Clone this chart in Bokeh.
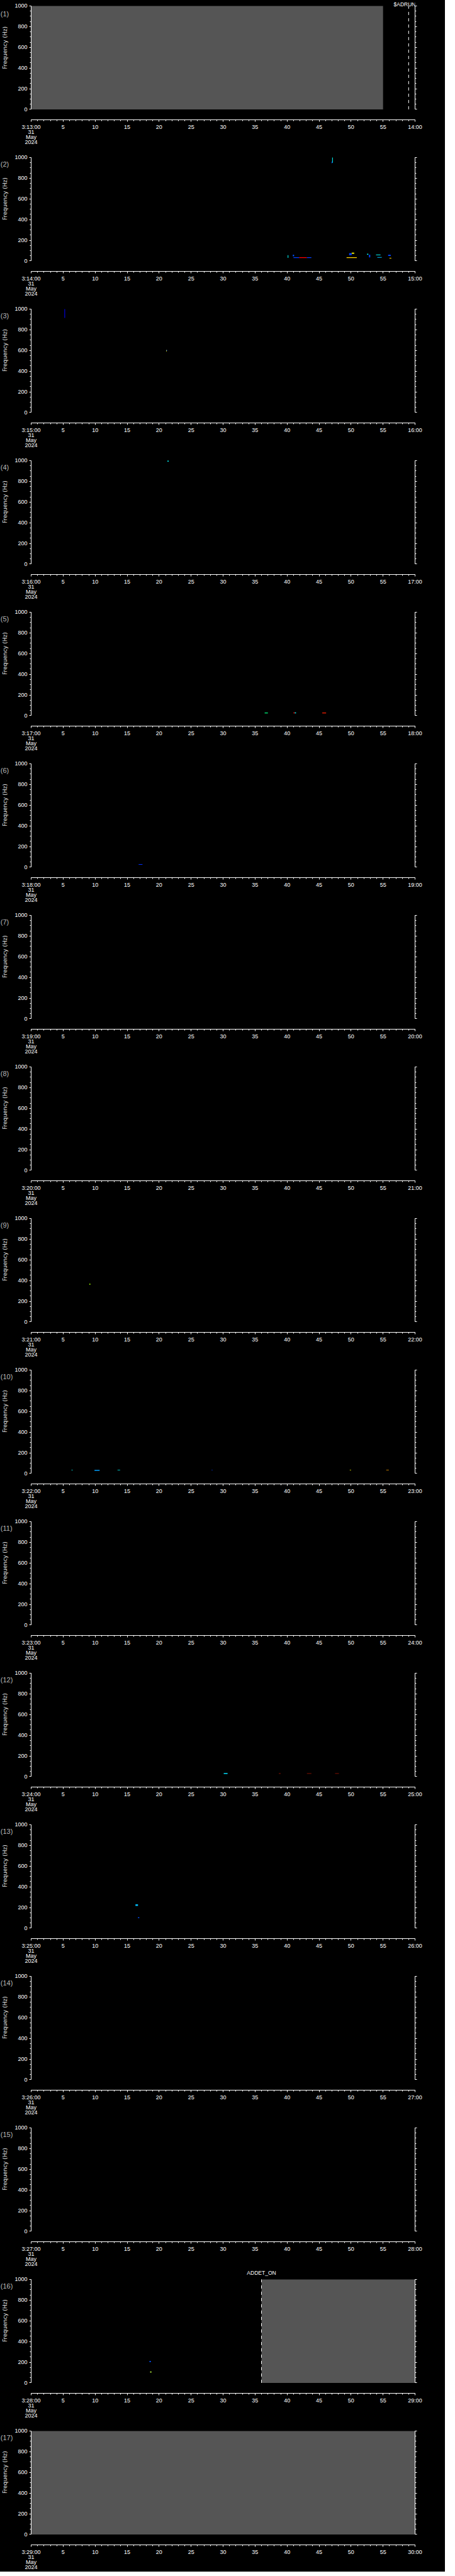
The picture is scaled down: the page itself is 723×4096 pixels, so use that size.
import math
from bokeh.plotting import figure
from bokeh.models import Range1d, LinearAxis, FixedTicker, ColumnDataSource
from bokeh.layouts import column, row
from bokeh.embed import file_html
from bokeh.resources import INLINE
from bokeh.core.properties import value

# ---------------- data ----------------
panel_minute = list(range(13, 30))          # panel k covers 03:mm:00 .. 03:mm+1:00
date_lines = ["31", "May", "2024"]
x_major = list(range(0, 61, 5))             # seconds
x_minor = list(range(0, 61, 1))
y_major = [0, 200, 400, 600, 800, 1000]     # Hz
y_minor = list(range(0, 1001, 50))
y_label = "Frequency  (Hz)"

gray_panel = [1, 16, 17]
gray_t0 = [0.0, 36.0, 0.0]
gray_t1 = [55.0, 60.0, 60.0]

event_panel = [1, 16]
event_time = [59.0, 36.0]
event_text = ["$ADRUN,3,*", "ADDET_ON"]
event_text_hz = [1017, 1062]

speck_panel = [2, 2, 2, 2, 2, 2, 2, 2, 2, 2, 2, 2, 2, 2, 2, 2,
               3, 3, 3,
               4,
               5, 5, 5, 5,
               6,
               9,
               10, 10, 10, 10, 10, 10,
               12, 12, 12, 12,
               13, 13,
               16, 16]
speck_t0 = [47.05, 46.95, 40.1, 40.9, 41.0, 41.9, 43.1, 49.3, 49.7, 50.1, 52.5, 52.8, 53.9, 54.1, 55.8, 56.0,
            5.2, 21.1, 21.15,
            21.3,
            36.5, 41.0, 41.2, 45.5,
            16.8,
            9.1,
            6.3, 9.9, 13.5, 28.2, 49.8, 55.5,
            30.1, 38.7, 43.1, 47.5,
            16.3, 16.7,
            18.5, 18.6]
speck_t1 = [47.15, 47.05, 40.2, 41.1, 41.9, 43.1, 43.8, 50.9, 50.1, 50.5, 52.7, 53.0, 54.6, 54.8, 56.2, 56.3,
            5.3, 21.2, 21.25,
            21.5,
            37.0, 41.2, 41.4, 46.1,
            17.4,
            9.25,
            6.5, 10.7, 13.9, 28.35, 50.0, 55.9,
            30.7, 39.0, 43.8, 48.1,
            16.7, 16.9,
            18.7, 18.8]
speck_f0 = [950, 945, 30, 45, 28, 28, 28, 28, 55, 70, 60, 35, 55, 32, 48, 24,
            915, 590, 595,
            990,
            22, 22, 22, 22,
            24,
            360,
            30, 25, 30, 30, 30, 30,
            25, 28, 28, 28,
            215, 97,
            200, 100]
speck_f1 = [1000, 960, 55, 60, 36, 36, 36, 36, 75, 80, 70, 60, 62, 38, 60, 30,
            1000, 605, 605,
            1000,
            30, 32, 32, 30,
            30,
            370,
            35, 35, 35, 35, 35, 35,
            35, 32, 32, 32,
            230, 105,
            212, 110]
speck_color = ["#00ffff", "#0050ff", "#00ffff", "#0050ff", "#0040ff", "#ff0000", "#0040ff", "#ffd000",
               "#0040ff", "#ffff00", "#00ffff", "#0040ff", "#00ffff", "#00c0ff", "#0040ff", "#ffd000",
               "#0000ff", "#ffff00", "#0040ff",
               "#00ffff",
               "#00ff80", "#ff0000", "#00ffff", "#ff2000",
               "#0030ff",
               "#a0ff00",
               "#00ffff", "#00a0ff", "#00ffff", "#0040ff", "#ffff00", "#ffa000",
               "#00e0ff", "#ff2000", "#ff2000", "#ff2000",
               "#00c0ff", "#0050ff",
               "#0050ff", "#c0ff40"]

# ---------------- layout constants ----------------
S = 723 / 1024.0
REF_PANEL_H = 5802 / 17.0
LW = 20                 # narrow left strip with panel number and y label
W = 707 - LW
BORDER_L = 28
BORDER_R = 48
Y_LO = -101
HZ_PER_PX = 6.081
FONT = "Liberation Sans"
GRAY = "#555555"

tops = [int(round(i * REF_PANEL_H * S)) for i in range(18)]

rows = []
for i, mm in enumerate(panel_minute):
    k = i + 1
    if i == 0:
        h = tops[1] - 8
        shift = 8.0
    else:
        h = tops[i + 1] - tops[i]
        shift = 0.0
    top1000 = 24 * S - shift              # px from figure top where 1000 Hz sits
    axis_y = int(round(281 * S - shift))  # px of the time axis
    y_hi = 1000 + top1000 * HZ_PER_PX

    # ---- left strip: panel number and y label ----
    lf = figure(width=LW, height=h, output_backend="svg", toolbar_location=None,
                x_range=Range1d(0, LW), y_range=Range1d(h, 0),
                x_axis_location=None, y_axis_location=None,
                min_border=0, background_fill_color="black", border_fill_color="black")
    lf.outline_line_color = None
    lf.grid.visible = False
    lf.text(x=[0.3], y=[48 * S - shift], text=["(%d)" % k], text_color="#b8b8b8",
            text_font=value(FONT), text_font_size="11px",
            text_align="left", text_baseline="middle")
    lf.text(x=[7.9], y=[140 * S - shift], text=[y_label], angle=math.pi / 2,
            text_color="#e0e0e0", text_font=value("DejaVu Sans"), text_font_size="9px",
            text_align="center", text_baseline="middle")

    # ---- main panel ----
    p = figure(width=W, height=h, output_backend="svg", toolbar_location=None,
               x_range=Range1d(0, 60), y_range=Range1d(Y_LO, y_hi),
               min_border_left=BORDER_L, min_border_right=BORDER_R,
               min_border_top=0, min_border_bottom=h - axis_y,
               background_fill_color="black", border_fill_color="black")
    p.outline_line_color = None
    p.grid.visible = False

    for gp, a, b in zip(gray_panel, gray_t0, gray_t1):
        if gp == k:
            p.quad(left=[a], right=[b], bottom=[0], top=[1000], fill_color=GRAY, line_color=None)

    sel = [j for j, sp in enumerate(speck_panel) if sp == k]
    if sel:
        src = ColumnDataSource(dict(
            l=[speck_t0[j] for j in sel], r=[speck_t1[j] for j in sel],
            b=[speck_f0[j] for j in sel], t=[speck_f1[j] for j in sel],
            c=[speck_color[j] for j in sel]))
        p.quad(left="l", right="r", bottom="b", top="t", fill_color="c", line_color=None, source=src)

    for ep, et, etxt, ehz in zip(event_panel, event_time, event_text, event_text_hz):
        if ep == k:
            p.segment(x0=[et], y0=[0], x1=[et], y1=[1000], line_color="white",
                      line_width=1, line_dash="5 5")
            p.text(x=[et], y=[ehz], text=[etxt], text_color="white",
                   text_font=value(FONT), text_font_size="8.5px",
                   text_align="center", text_baseline="alphabetic")

    xa = p.xaxis[0]
    xa.ticker = FixedTicker(ticks=x_major, minor_ticks=x_minor)
    over = {0: "3:%02d:00\n%s" % (mm, "\n".join(date_lines)), 60: "%02d:00" % (mm + 1)}
    for t in x_major[1:-1]:
        over[t] = str(t)
    xa.major_label_overrides = over

    ya = p.yaxis[0]
    ya.ticker = FixedTicker(ticks=y_major, minor_ticks=y_minor)
    ya.bounds = (0, 1000)
    ya.major_label_standoff = 3

    ra = LinearAxis(ticker=FixedTicker(ticks=y_major, minor_ticks=y_minor), bounds=(0, 1000))
    p.add_layout(ra, "right")

    for ax in (xa, ya, ra):
        ax.axis_line_color = "white"
        ax.major_tick_line_color = "white"
        ax.minor_tick_line_color = "white"
        ax.major_tick_out = 3
        ax.major_tick_in = 0
        ax.minor_tick_out = 2
        ax.minor_tick_in = 0
        ax.major_label_text_color = "white"
        ax.major_label_text_font = FONT
        ax.major_label_text_font_size = "9px"
    ra.major_label_text_color = None
    xa.major_label_standoff = 3
    xa.major_label_text_line_height = 0.8

    rows.append(row(lf, p, spacing=0, background="black"))

layout = column(*rows, spacing=0, background="black")
open("out.html", "w").write(file_html(layout, INLINE))
